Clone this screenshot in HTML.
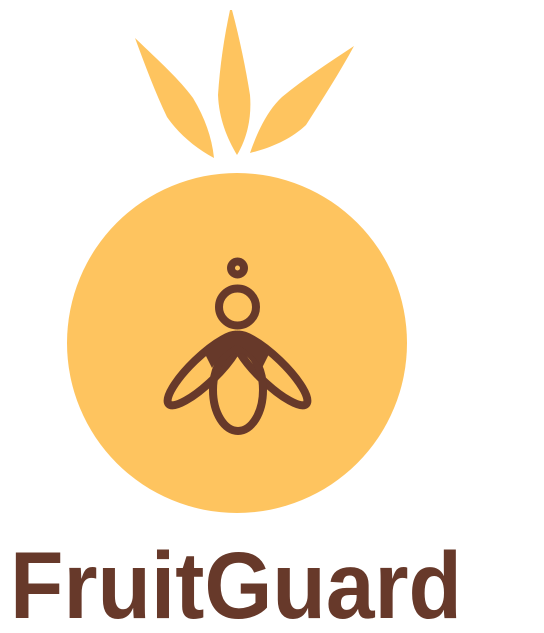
<!DOCTYPE html>
<html><head><meta charset="utf-8"><style>
html,body{margin:0;padding:0;background:#fff;width:544px;height:633px;overflow:hidden}
</style></head><body>
<svg width="544" height="633" viewBox="0 0 544 633" xmlns="http://www.w3.org/2000/svg">
  <g fill="#FEC45F">
    <path d="M135,38 C160,62 180,80 193,98 C205,118 212,138 214,158 C195,148 178,133 167,117 C155,92 145,65 135,38 Z"/>
    <path d="M230,10 L232,10 C240,40 246,70 250,95 C252,120 246,140 237,155 C228,140 219,120 218,95 C220,65 224,38 230,10 Z"/>
    <path d="M354,46 C340,72 322,100 306,125 C290,140 270,148 250,153 C258,130 268,110 282,97 C305,78 330,62 354,46 Z"/>
  </g>
  <circle cx="237" cy="343" r="170" fill="#FEC45F"/>
  <g stroke="#67392A" fill="none" stroke-width="8">
    <circle cx="237.5" cy="268" r="6.5"/>
    <circle cx="237.5" cy="307" r="18.5"/>
    <ellipse cx="204" cy="370" rx="49" ry="13" transform="rotate(-44 204 370)"/>
    <ellipse cx="271" cy="370" rx="49" ry="13" transform="rotate(44 271 370)"/>
    <ellipse cx="238" cy="390" rx="25" ry="41"/>
  </g>
  <path fill="#67392A" d="M203,350 C215,338 228,334 237,334 C246,334 259,338 271,350 L262,368 C255,356 246,350 240,346 L237,343 L234,346 C228,350 219,356 212,368 Z"/>
  <text x="10" y="618" textLength="452" lengthAdjust="spacingAndGlyphs" font-family="'Liberation Sans', sans-serif" font-weight="700" font-size="95" fill="#67392A">FruitGuard</text>
</svg>
</body></html>
